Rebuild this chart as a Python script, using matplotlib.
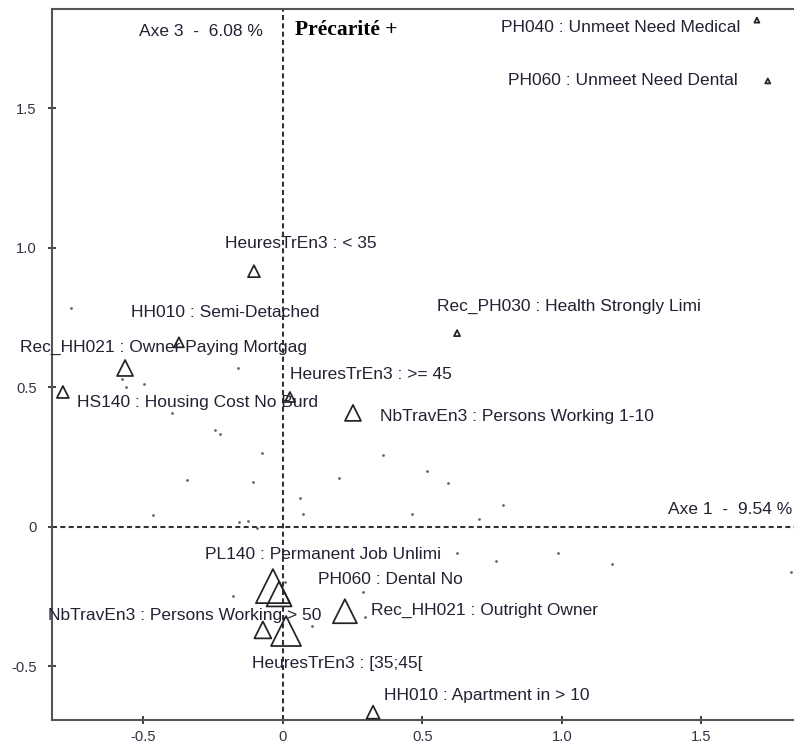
import numpy as np
import matplotlib
matplotlib.use('Agg')
import matplotlib.pyplot as plt

# Modalities (active categories) : coordinates on axes 1 and 3
labels = ['PH040 : Unmeet Need Medical', 'PH060 : Unmeet Need Dental',
          'HeuresTrEn3 : < 35', 'Rec_PH030 : Health Strongly Limi',
          'HH010 : Semi-Detached', 'Rec_HH021 : Owner Paying Mortgag',
          'HS140 : Housing Cost No Burd', 'HeuresTrEn3 : >= 45',
          'NbTravEn3 : Persons Working 1-10', 'PL140 : Permanent Job Unlimi',
          'PH060 : Dental No', 'NbTravEn3 : Persons Working > 50',
          'HeuresTrEn3 : [35;45[', 'Rec_HH021 : Outright Owner',
          'HH010 : Apartment in > 10']
axe1 = [1.699, 1.738, -0.104, 0.624, -0.373, -0.566, -0.789, 0.025,
        0.251, -0.036, -0.014, -0.072, 0.011, 0.222, 0.323]
axe3 = [1.816, 1.598, 0.916, 0.694, 0.661, 0.569, 0.483, 0.465,
        0.408, -0.213, -0.241, -0.370, -0.374, -0.303, -0.665]
# marker size (weight of the modality)
weight = [3.6, 3.6, 8.6, 4.3, 7.2, 11.5, 8.6, 7.2,
          11.5, 24.5, 18.0, 12.2, 21.6, 17.3, 9.4]
# where the labels were written
lab_x = [1.211, 1.219, 0.065, 1.025, -0.208, -0.428, -0.308, 0.315,
         0.839, 0.143, 0.387, -0.353, 0.194, 0.724, 0.731]
lab_y = [1.791, 1.598, 1.016, 0.791, 0.769, 0.641, 0.447, 0.544,
         0.396, -0.098, -0.191, -0.320, -0.490, -0.299, -0.604]

# supplementary points (small dots)
dots_x = [-0.760, -0.161, -0.577, -0.563, -0.498, -0.398, -0.244, -0.226,
          -0.344, -0.108, -0.075, 0.061, 0.072, 0.201, 0.358, 0.516,
          0.591, 0.789, 0.462, 0.703, -0.466, -0.158, -0.125, -0.093,
          0.624, 0.763, 0.986, 1.179, 1.821, -0.179, 0.007, 0.104,
          0.287, 0.294]
dots_y = [0.784, 0.569, 0.529, 0.501, 0.511, 0.408, 0.347, 0.332,
          0.167, 0.160, 0.264, 0.103, 0.045, 0.175, 0.257, 0.200,
          0.157, 0.078, 0.046, 0.028, 0.042, 0.017, 0.021, -0.005,
          -0.095, -0.123, -0.095, -0.134, -0.163, -0.248, -0.198, -0.356,
          -0.234, -0.324]

xticks = [-0.5, 0, 0.5, 1.0, 1.5]
yticks = [-0.5, 0, 0.5, 1.0, 1.5]
xtick_labels = ['-0.5', '0', '0.5', '1.0', '1.5']
ytick_labels = ['-0.5', '0', '0.5', '1.0', '1.5']

plt.rcParams['font.family'] = ['Liberation Sans', 'DejaVu Sans']

fig = plt.figure(figsize=(7.94, 7.45), dpi=100)
ax = fig.add_axes([52 / 794, 25 / 745, 742 / 794, 711 / 745])
ax.set_xlim(-0.828, 1.832)
ax.set_ylim(-0.693, 1.856)

# axes through origin
ax.axhline(0, color='#333333', lw=1.5, ls=(0, (2.4, 1.6)), zorder=1)
ax.axvline(0, color='#333333', lw=1.5, ls=(0, (2.4, 1.6)), zorder=1)

ax.scatter(dots_x, dots_y, s=4, color='#666666', lw=0, zorder=2)
ax.scatter(axe1, axe3, s=np.array(weight) ** 2, marker='^',
           facecolors='none', edgecolors='#222222', linewidths=1.25, zorder=3)

for i in range(len(labels)):
    ax.text(lab_x[i], lab_y[i], labels[i], ha='center', va='center',
            fontsize=12.5, color='#222233', zorder=4)

# axis titles
ax.text(-0.072, 1.777, 'Axe 3  -  6.08 %', ha='right', va='center',
        fontsize=12.5, color='#222233')
ax.text(0.043, 1.780, 'Précarité +', ha='left', va='center', fontsize=15.5,
        fontweight='bold', family='Liberation Serif', color='black')
ax.text(1.824, 0.060, 'Axe 1  -  9.54 %', ha='right', va='center',
        fontsize=12.5, color='#222233')

ax.spines['right'].set_visible(False)
for s in ['left', 'bottom', 'top']:
    ax.spines[s].set_color('#555555')
    ax.spines[s].set_linewidth(1.5)

ax.set_xticks(xticks)
ax.set_xticklabels(xtick_labels)
ax.set_yticks(yticks)
ax.set_yticklabels(ytick_labels)
ax.tick_params(axis='both', direction='inout', length=6, width=1.3,
               color='#333333', labelsize=10.6, labelcolor='#333344')
ax.tick_params(axis='y', pad=8)
ax.tick_params(axis='x', pad=4)

fig.savefig('out.png', dpi=100)
